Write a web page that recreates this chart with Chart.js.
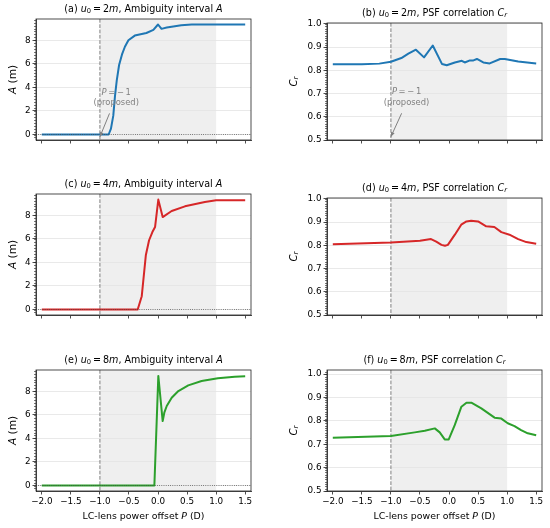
<!DOCTYPE html>
<html>
<head>
<meta charset="utf-8">
<script src="https://cdn.jsdelivr.net/npm/chart.js@4.4.0/dist/chart.umd.min.js"></script>
<style>
html, body { margin: 0; padding: 0; background: #fff; }
#fig { position: relative; width: 550px; height: 528px; }
#fig canvas { position: absolute; }
</style>
</head>
<body>
<div id="fig"></div>
<script>
// ---- data ----
// (a) u0 = 2m, ambiguity interval A (m)
const pA2 = [-2.0, -0.85, -0.81, -0.77, -0.74, -0.71, -0.67, -0.62, -0.57, -0.51, -0.4, -0.2, -0.08, 0.0, 0.06, 0.15, 0.29, 0.4, 0.58, 1.5];
const valA2 = [0, 0, 0.5, 1.6, 3.3, 4.6, 5.9, 6.8, 7.45, 8.0, 8.4, 8.62, 8.88, 9.34, 8.97, 9.08, 9.2, 9.28, 9.33, 9.33];
// (b) u0 = 2m, PSF correlation Cr
const pC2 = [-2.0, -1.5, -1.2, -1.0, -0.82, -0.7, -0.57, -0.43, -0.28, -0.12, -0.04, 0.1, 0.22, 0.27, 0.36, 0.42, 0.48, 0.59, 0.7, 0.88, 0.96, 1.19, 1.5];
const valC2 = [0.826, 0.826, 0.829, 0.837, 0.853, 0.872, 0.889, 0.856, 0.907, 0.827, 0.822, 0.834, 0.841, 0.834, 0.843, 0.843, 0.849, 0.834, 0.830, 0.849, 0.849, 0.838, 0.830];
// (c) u0 = 4m, A
const pA4 = [-2.0, -0.35, -0.28, -0.21, -0.154, -0.097, -0.051, 0.005, 0.08, 0.235, 0.463, 0.806, 1.0, 1.5];
const valA4 = [0, 0, 1.13, 4.6, 5.88, 6.58, 7.0, 9.33, 7.85, 8.36, 8.76, 9.13, 9.27, 9.28];
// (d) u0 = 4m, Cr
const pC4 = [-2.0, -1.0, -0.5, -0.31, -0.22, -0.13, -0.07, -0.02, 0.1, 0.21, 0.3, 0.38, 0.5, 0.64, 0.78, 0.9, 1.04, 1.19, 1.33, 1.5];
const valC4 = [0.805, 0.812, 0.820, 0.827, 0.816, 0.802, 0.798, 0.802, 0.846, 0.889, 0.903, 0.906, 0.903, 0.882, 0.879, 0.857, 0.846, 0.827, 0.814, 0.807];
// (e) u0 = 8m, A
const pA8 = [-2.0, -0.063, 0.005, 0.08, 0.108, 0.15, 0.235, 0.35, 0.52, 0.75, 1.03, 1.32, 1.5];
const valA8 = [0, 0, 9.3, 5.47, 6.18, 6.75, 7.45, 8.02, 8.5, 8.87, 9.1, 9.24, 9.28];
// (f) u0 = 8m, Cr
const pC8 = [-2.0, -1.0, -0.59, -0.417, -0.245, -0.16, -0.074, -0.005, 0.098, 0.213, 0.3, 0.384, 0.556, 0.784, 0.9, 1.01, 1.127, 1.24, 1.355, 1.5];
const valC8 = [0.728, 0.735, 0.751, 0.758, 0.768, 0.751, 0.721, 0.721, 0.782, 0.861, 0.878, 0.878, 0.854, 0.814, 0.810, 0.790, 0.778, 0.761, 0.747, 0.739];

const pTicks = [-2.0, -1.5, -1.0, -0.5, 0.0, 0.5, 1.0, 1.5];
const pTickLabels = ['\u22122.0', '\u22121.5', '\u22121.0', '\u22120.5', '0.0', '0.5', '1.0', '1.5'];
const aTicks = [0, 2, 4, 6, 8];
const aTickLabels = ['0', '2', '4', '6', '8'];
const crTicks = [0.5, 0.6, 0.7, 0.8, 0.9, 1.0];
const crTickLabels = ['0.5', '0.6', '0.7', '0.8', '0.9', '1.0'];

const shadeFrom = -1.0, shadeTo = 1.0;   // grey band
const markP = -1.0;                      // dashed line, proposed P

// ---- look ----
const FONT = '"DejaVu Sans", sans-serif';
const INK = '#222';
const cols = [{ cx: 0, left: 36, right: 251 }, { cx: 275, left: 327, right: 542 }];
const rows = [{ cy: 0, ch: 175, bottom: 140 }, { cy: 175, ch: 175, bottom: 315 }, { cy: 350, ch: 178, bottom: 491 }];

const ttl = (tag, u, what) => [['(' + tag + ') '], ['u', 'i'], ['0', 's'], ['\u2009=\u2009' + u], ['m', 'i'], [', ' + what + ' ']];

const panels = [
  { col: 0, row: 0, top: 19, titleY: 9, kind: 'A', x: pA2, y: valA2, color: '#1f77b4',
    title: ttl('a', 2, 'Ambiguity interval').concat([['A', 'i']]),
    note: { x: -0.72, y: 3.13, tail: [-0.835, 1.79], head: [-1, -0.2] } },
  { col: 1, row: 0, top: 23, titleY: 13.3, kind: 'C', cmax: 1.004, x: pC2, y: valC2, color: '#1f77b4',
    title: ttl('b', 2, 'PSF correlation').concat([['C', 'i'], ['r', 'is']]),
    note: { x: -0.73, y: 0.684, tail: [-0.816, 0.615], head: [-1, 0.514] } },
  { col: 0, row: 1, top: 194, titleY: 184, kind: 'A', x: pA4, y: valA4, color: '#d62728',
    title: ttl('c', 4, 'Ambiguity interval').concat([['A', 'i']]) },
  { col: 1, row: 1, top: 198, titleY: 188.3, kind: 'C', cmax: 1.004, x: pC4, y: valC4, color: '#d62728',
    title: ttl('d', 4, 'PSF correlation').concat([['C', 'i'], ['r', 'is']]) },
  { col: 0, row: 2, top: 370, titleY: 360, kind: 'A', x: pA8, y: valA8, color: '#2ca02c',
    title: ttl('e', 8, 'Ambiguity interval').concat([['A', 'i']]) },
  { col: 1, row: 2, top: 370, titleY: 360, kind: 'C', cmax: 1.018, x: pC8, y: valC8, color: '#2ca02c',
    title: ttl('f', 8, 'PSF correlation').concat([['C', 'i'], ['r', 'is']]) }
];

// text made of plain / italic / subscript pieces, centred on (x, y)
function richText(ctx, segs, x, y, size, color, rotate) {
  ctx.save();
  ctx.translate(x, y);
  if (rotate) ctx.rotate(rotate);
  ctx.textBaseline = 'middle';
  ctx.textAlign = 'left';
  ctx.fillStyle = color;
  let total = 0;
  const parts = segs.map(function (seg) {
    const st = seg[1] || '';
    const sub = st.indexOf('s') >= 0;
    const sz = sub ? size * 0.7 : size;
    const font = (st.indexOf('i') >= 0 ? 'italic ' : '') + sz + 'px ' + FONT;
    ctx.font = font;
    const w = ctx.measureText(seg[0]).width;
    total += w;
    return { t: seg[0], font: font, w: w, dy: sub ? size * 0.25 : 0 };
  });
  let cx = -total / 2;
  parts.forEach(function (pt) {
    ctx.font = pt.font;
    ctx.fillText(pt.t, cx, pt.dy);
    cx += pt.w;
  });
  ctx.restore();
}

function decor(p) {
  const row = rows[p.row];
  return {
    id: 'decor',
    beforeDraw(chart) {
      const ctx = chart.ctx, ca = chart.chartArea, x = chart.scales.x;
      const x0 = x.getPixelForValue(shadeFrom), x1 = x.getPixelForValue(shadeTo);
      ctx.save();
      ctx.fillStyle = '#efefef';
      ctx.fillRect(x0, ca.top, x1 - x0, ca.bottom - ca.top);
      ctx.restore();
    },
    beforeDatasetsDraw(chart) {
      const ctx = chart.ctx, ca = chart.chartArea;
      const xm = chart.scales.x.getPixelForValue(markP);
      ctx.save();
      ctx.strokeStyle = '#808080';
      ctx.lineWidth = 1;
      ctx.setLineDash([3.7, 1.6]);
      ctx.beginPath();
      ctx.moveTo(xm, ca.top);
      ctx.lineTo(xm, ca.bottom);
      ctx.stroke();
      ctx.restore();
    },
    afterDatasetsDraw(chart) {
      const ctx = chart.ctx, ca = chart.chartArea, x = chart.scales.x, y = chart.scales.y;
      ctx.save();
      if (p.kind === 'A') {
        const y0 = y.getPixelForValue(0);
        ctx.strokeStyle = '#444';
        ctx.lineWidth = 0.8;
        ctx.setLineDash([0.8, 1.4]);
        ctx.beginPath();
        ctx.moveTo(ca.left, y0);
        ctx.lineTo(ca.right, y0);
        ctx.stroke();
        ctx.setLineDash([]);
      }
      if (p.note) {
        const n = p.note;
        const tx = x.getPixelForValue(n.tail[0]), ty = y.getPixelForValue(n.tail[1]);
        const hx = x.getPixelForValue(n.head[0]), hy = y.getPixelForValue(n.head[1]);
        ctx.strokeStyle = '#808080';
        ctx.fillStyle = '#808080';
        ctx.lineWidth = 1;
        ctx.beginPath();
        ctx.moveTo(tx, ty);
        ctx.lineTo(hx, hy);
        ctx.stroke();
        const ang = Math.atan2(hy - ty, hx - tx);
        ctx.beginPath();
        ctx.moveTo(hx, hy);
        ctx.lineTo(hx - 5 * Math.cos(ang - 0.4), hy - 5 * Math.sin(ang - 0.4));
        ctx.lineTo(hx - 5 * Math.cos(ang + 0.4), hy - 5 * Math.sin(ang + 0.4));
        ctx.closePath();
        ctx.fill();
        const cx = x.getPixelForValue(n.x), cy = y.getPixelForValue(n.y);
        richText(ctx, [['P', 'i'], ['\u2009=\u2009\u2212\u20091']], cx, cy - 5.2, 8.4, '#808080');
        richText(ctx, [['(proposed)']], cx, cy + 5.2, 8.4, '#808080');
      }
      ctx.strokeStyle = INK;
      ctx.lineWidth = 0.8;
      ctx.strokeRect(ca.left, ca.top, ca.right - ca.left, ca.bottom - ca.top);
      // minor ticks on the left spine
      const step = p.kind === 'A' ? 0.25 : 0.01;
      ctx.lineWidth = 0.6;
      ctx.beginPath();
      for (let k = Math.ceil(y.min / step); k * step <= y.max + 1e-9; k++) {
        const py = Math.round(y.getPixelForValue(k * step)) + 0.5;
        ctx.moveTo(ca.left - 2, py);
        ctx.lineTo(ca.left, py);
      }
      ctx.stroke();
      ctx.restore();
    },
    afterDraw(chart) {
      const ctx = chart.ctx, ca = chart.chartArea;
      const mid = (ca.left + ca.right) / 2;
      richText(ctx, p.title, mid, p.titleY - row.cy, 9.6, '#000');
      const ylab = p.kind === 'A' ? [['A', 'i'], [' (m)']] : [['C', 'i'], ['r', 'is']];
      const yx = p.kind === 'A' ? ca.left - 22.7 : ca.left - 33;
      richText(ctx, ylab, yx, (ca.top + ca.bottom) / 2, p.kind === 'A' ? 10.6 : 10.2, '#000', -Math.PI / 2);
      if (p.row === 2) {
        richText(ctx, [['LC-lens power offset '], ['P', 'i'], [' (D)']], mid, 517 - row.cy, 9.4, '#000');
      }
    }
  };
}

const fig = document.getElementById('fig');
panels.forEach(function (p) {
  const col = cols[p.col], row = rows[p.row];
  const cv = document.createElement('canvas');
  cv.width = 275;
  cv.height = row.ch;
  cv.style.left = col.cx + 'px';
  cv.style.top = row.cy + 'px';
  fig.appendChild(cv);

  const isA = p.kind === 'A';
  const ymin = isA ? -0.467 : 0.5;
  const ymax = isA ? 9.807 : p.cmax;
  const yt = isA ? aTicks : crTicks;
  const yl = isA ? aTickLabels : crTickLabels;
  const yW = col.left - col.cx;
  const xH = row.cy + row.ch - row.bottom;

  new Chart(cv, {
    type: 'line',
    data: {
      datasets: [{
        data: p.x.map(function (v, i) { return { x: v, y: p.y[i] }; }),
        borderColor: p.color,
        borderWidth: 2,
        borderJoinStyle: 'round',
        pointRadius: 0,
        tension: 0,
        fill: false
      }]
    },
    options: {
      responsive: false,
      animation: false,
      events: [],
      layout: { padding: { top: p.top - row.cy, left: 0, right: col.cx + 275 - col.right, bottom: 0 } },
      plugins: { legend: { display: false }, title: { display: false }, tooltip: { enabled: false } },
      scales: {
        x: {
          type: 'linear', min: -2.1, max: 1.6, bounds: 'data',
          afterBuildTicks: function (s) { s.ticks = pTicks.map(function (v) { return { value: v }; }); },
          ticks: {
            display: p.row === 2, autoSkip: false, maxRotation: 0, padding: 2,
            color: '#000', font: { family: FONT, size: 8.8 },
            callback: function (v) { return pTickLabels[pTicks.indexOf(v)]; }
          },
          grid: { drawOnChartArea: false, drawTicks: true, tickLength: 3.5, tickColor: INK, tickWidth: 0.8 },
          border: { color: INK, width: 0.8 },
          afterFit: function (s) { s.height = xH; }
        },
        y: {
          type: 'linear', position: 'left', min: ymin, max: ymax, bounds: 'data',
          afterBuildTicks: function (s) { s.ticks = yt.map(function (v) { return { value: v }; }); },
          ticks: {
            padding: 2, color: '#000', font: { family: FONT, size: 8.8 },
            callback: function (v) { return yl[yt.indexOf(v)]; }
          },
          grid: { color: '#e3e3e3', lineWidth: 0.8, tickLength: 3.5, tickColor: INK, tickWidth: 0.8 },
          border: { color: INK, width: 0.8 },
          afterFit: function (s) { s.width = yW; }
        }
      }
    },
    plugins: [decor(p)]
  });
});
</script>
</body>
</html>
